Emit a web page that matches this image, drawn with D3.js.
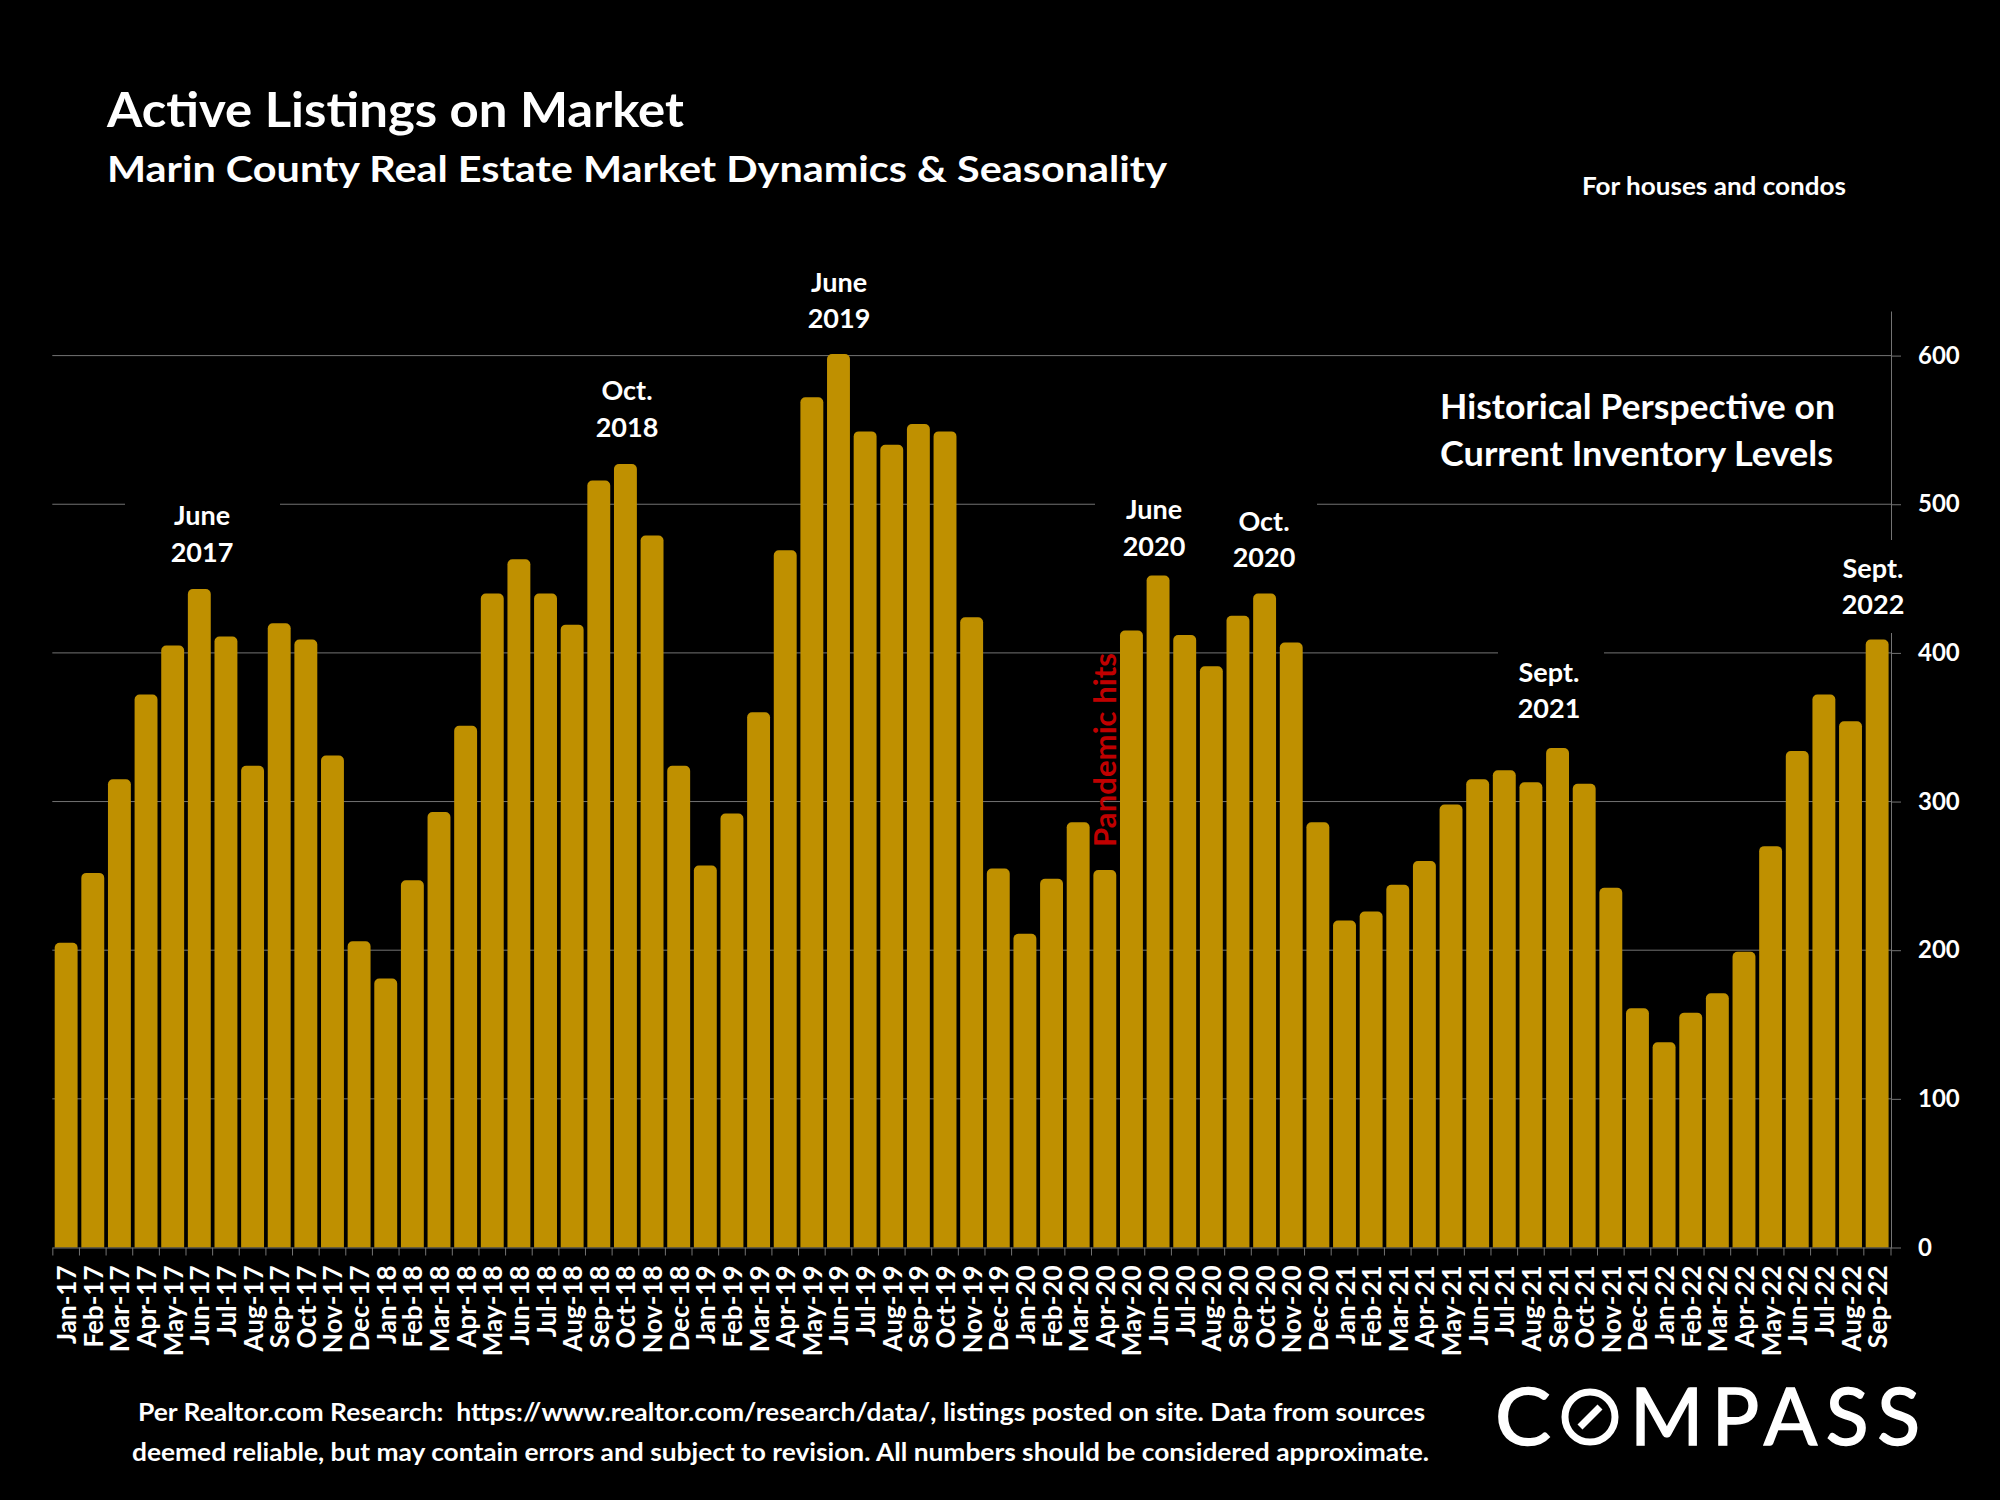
<!DOCTYPE html>
<html>
<head>
<meta charset="utf-8">
<script src="https://cdn.jsdelivr.net/npm/d3@7/dist/d3.min.js"></script>
<style>
  html, body { margin: 0; background: #000; }
  svg { display: block; }
  text { font-family: Lato, "Open Sans", sans-serif; font-weight: 700; fill: #fff; white-space: pre; }
</style>
</head>
<body>
<svg id="chart" width="2000" height="1500"></svg>
<script>
const months = [
  'Jan-17','Feb-17','Mar-17','Apr-17','May-17','Jun-17','Jul-17','Aug-17','Sep-17','Oct-17','Nov-17','Dec-17',
  'Jan-18','Feb-18','Mar-18','Apr-18','May-18','Jun-18','Jul-18','Aug-18','Sep-18','Oct-18','Nov-18','Dec-18',
  'Jan-19','Feb-19','Mar-19','Apr-19','May-19','Jun-19','Jul-19','Aug-19','Sep-19','Oct-19','Nov-19','Dec-19',
  'Jan-20','Feb-20','Mar-20','Apr-20','May-20','Jun-20','Jul-20','Aug-20','Sep-20','Oct-20','Nov-20','Dec-20',
  'Jan-21','Feb-21','Mar-21','Apr-21','May-21','Jun-21','Jul-21','Aug-21','Sep-21','Oct-21','Nov-21','Dec-21',
  'Jan-22','Feb-22','Mar-22','Apr-22','May-22','Jun-22','Jul-22','Aug-22','Sep-22'
];
const listings = [
  205,252,315,372,405,443,411,324,420,409,331,206,
  181,247,293,351,440,463,440,419,516,527,479,324,
  257,292,360,469,572,601,549,540,554,549,424,255,
  211,248,286,254,415,452,412,391,425,440,407,286,
  220,226,244,260,298,315,321,313,336,312,242,161,
  138,158,171,199,270,334,372,354,409
];
const yTicks = [0,100,200,300,400,500,600];

// callouts, each with the black box that hides the gridline behind it
const callouts = [
  {lines:['June','2017'], cx:202,  y:[525,562]},
  {lines:['Oct.','2018'], cx:627,  y:[400,437]},
  {lines:['June','2019'], cx:839,  y:[292,328]},
  {lines:['June','2020'], cx:1154, y:[519,556]},
  {lines:['Oct.','2020'], cx:1264, y:[531,567]},
  {lines:['Sept.','2021'], cx:1549, y:[682,718]},
  {lines:['Sept.','2022'], cx:1873, y:[578,614]}
];
const masks = [
  [125,490,155,80],
  [1095,490,222,80],
  [1498,640,106,90],
  [1835,540,60,93]
];

const plotLeft = 52.3, plotRight = 1891, plotTop = 311, plotBottom = 1247.5;
const grey = '#737373', gold = '#bf9000';

let svg = d3.select('#chart');

svg.append('rect').attr('width', 2000).attr('height', 1500).attr('fill', '#000');

let x = d3.scaleBand().domain(months).range([plotLeft, plotRight]).paddingInner(0.14).paddingOuter(0.09);
let y = d3.scaleLinear().domain([0, 630]).range([plotBottom, plotTop]);

// gridlines
svg.append('g').selectAll('line')
  .data(yTicks.filter(d => d > 0))
  .join('line')
  .attr('x1', plotLeft)
  .attr('x2', plotRight)
  .attr('y1', d => y(d))
  .attr('y2', d => y(d))
  .attr('stroke', grey)
  .attr('stroke-width', 1);

// right axis
let yAxis = svg.append('g')
  .attr('transform', `translate(${plotRight},0)`)
  .call(d3.axisRight(y).tickValues(yTicks).tickSize(10).tickSizeOuter(0).tickPadding(17));
yAxis.selectAll('path, line').attr('stroke', grey).attr('stroke-width', 1);
yAxis.selectAll('text').style('font-size', '24px').attr('fill', '#fff');

// boxes behind the callouts
svg.append('g').selectAll('rect')
  .data(masks)
  .join('rect')
  .attr('x', d => d[0])
  .attr('y', d => d[1])
  .attr('width', d => d[2])
  .attr('height', d => d[3])
  .attr('fill', '#000');

// bars, square at the base and slightly rounded on top
const r = 5;
svg.append('g').selectAll('path')
  .data(listings)
  .join('path')
  .attr('fill', gold)
  .attr('d', (d, i) => {
    let x0 = x(months[i]), x1 = x0 + x.bandwidth(), y0 = y(d);
    let p = d3.path();
    p.moveTo(x0, plotBottom);
    p.lineTo(x0, y0 + r);
    p.arcTo(x0, y0, x0 + r, y0, r);
    p.lineTo(x1 - r, y0);
    p.arcTo(x1, y0, x1, y0 + r, r);
    p.lineTo(x1, plotBottom);
    p.closePath();
    return p.toString();
  });

// bottom axis, ticks sit between the months
let xAxis = svg.append('g')
  .attr('transform', `translate(0,${plotBottom})`)
  .call(d3.axisBottom(x).tickSize(0).tickSizeOuter(0));
xAxis.select('path').attr('stroke', grey);
xAxis.selectAll('.tick').append('line')
  .attr('x1', -x.step() / 2)
  .attr('x2', -x.step() / 2)
  .attr('y2', 8)
  .attr('stroke', grey);
xAxis.append('line')
  .attr('x1', plotRight)
  .attr('x2', plotRight)
  .attr('y2', 8)
  .attr('stroke', grey);
xAxis.selectAll('.tick text')
  .style('font-size', '26px')
  .attr('fill', '#fff')
  .attr('text-anchor', 'end')
  .attr('dy', null)
  .attr('y', 0)
  .attr('dominant-baseline', 'central')
  .attr('transform', 'translate(0,18) rotate(-90)');

// callout text
let co = svg.append('g').selectAll('g').data(callouts).join('g');
co.selectAll('text')
  .data(d => d.lines.map((t, i) => ({t, cx: d.cx, y: d.y[i]})))
  .join('text')
  .attr('x', d => d.cx)
  .attr('y', d => d.y)
  .attr('text-anchor', 'middle')
  .style('font-size', '27px')
  .text(d => d.t);

// free text: string, x, baseline, size, fitted width
const notes = [
  ['Active Listings on Market', 107, 127, 48, 577],
  ['Marin County Real Estate Market Dynamics & Seasonality', 107, 182, 37, 1060],
  ['For houses and condos', 1582, 195, 25, 264],
  ['Historical Perspective on', 1440, 419, 34, 395],
  ['Current Inventory Levels', 1440, 466, 34, 393],
  ['Per Realtor.com Research:  https://www.realtor.com/research/data/, listings posted on site. Data from sources', 138, 1421, 24, 1287],
  ['deemed reliable, but may contain errors and subject to revision. All numbers should be considered approximate.', 132, 1461, 24, 1297]
];
svg.append('g').selectAll('text')
  .data(notes)
  .join('text')
  .attr('x', d => d[1])
  .attr('y', d => d[2])
  .style('font-size', d => d[3] + 'px')
  .attr('textLength', d => d[4])
  .attr('lengthAdjust', 'spacingAndGlyphs')
  .text(d => d[0]);

svg.append('text')
  .attr('transform', 'translate(1116,847) rotate(-90)')
  .attr('textLength', 194)
  .attr('lengthAdjust', 'spacingAndGlyphs')
  .style('font-size', '30px')
  .style('fill', '#c00000')
  .text('Pandemic hits');

// logo
let logo = svg.append('g').attr('stroke', '#fff');
logo.append('text')
  .attr('x', 1495).attr('y', 1445)
  .attr('textLength', 56)
  .attr('lengthAdjust', 'spacingAndGlyphs')
  .attr('stroke-width', 1.5)
  .style('font-size', '79px').style('font-weight', 400)
  .text('C');
logo.append('circle')
  .attr('cx', 1590).attr('cy', 1417).attr('r', 25)
  .attr('fill', 'none').attr('stroke-width', 7);
logo.append('line')
  .attr('x1', 1580).attr('y1', 1427).attr('x2', 1600).attr('y2', 1407)
  .attr('stroke-width', 7);
logo.append('text')
  .attr('x', 1630).attr('y', 1445)
  .attr('textLength', 290)
  .attr('lengthAdjust', 'spacing')
  .attr('stroke-width', 1.5)
  .style('font-size', '79px').style('font-weight', 400)
  .text('MPASS');
</script>
</body>
</html>
